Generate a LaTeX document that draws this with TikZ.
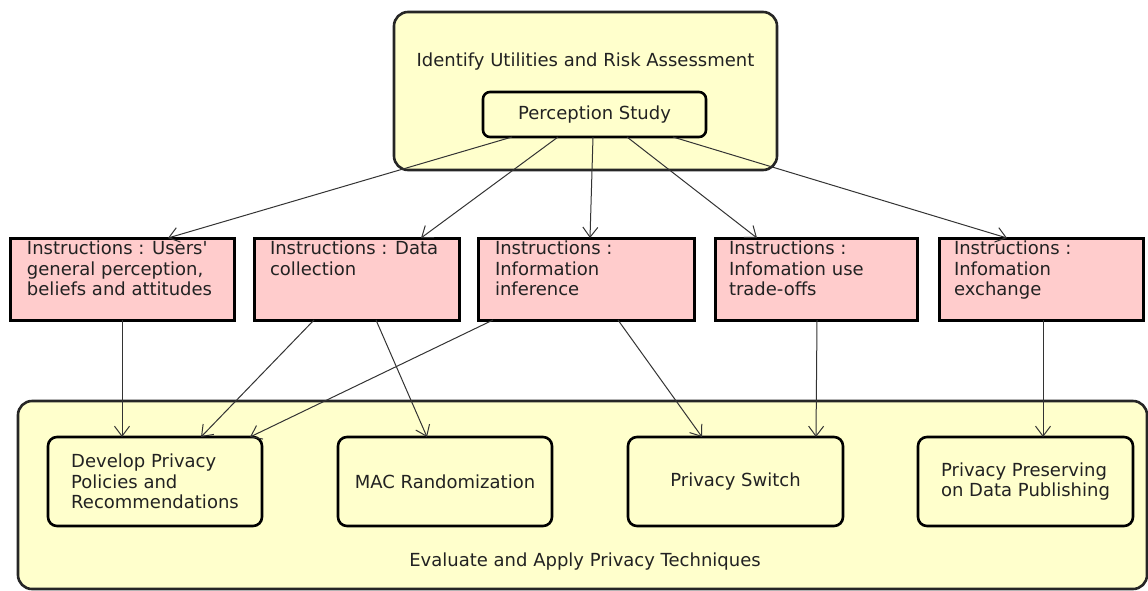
\documentclass[tikz,border=0pt]{standalone}
\usepackage{fontspec}
\setmainfont{DejaVu Sans}
\usetikzlibrary{arrows.meta}
\definecolor{paleyellow}{RGB}{255,255,204}
\definecolor{palepink}{RGB}{255,204,204}
\definecolor{inkgrey}{RGB}{34,34,34}

\begin{document}
\begin{tikzpicture}[x=1pt,y=-1pt,
  every node/.style={outer sep=0pt, inner sep=0pt, text=inkgrey},
  lbl/.style={font=\fontsize{18}{20.5}\selectfont},
  group/.style={draw=black!85, line width=2.6pt, fill=paleyellow, rounded corners=14pt},
  task/.style={draw=black, line width=2.6pt, fill=paleyellow, rounded corners=9pt, lbl, align=left},
  instr/.style={draw=black, line width=3pt, fill=palepink, minimum height=82pt},
  itext/.style={lbl, anchor=north west, align=left},
  conn/.style={draw=black!80, line width=1pt, -{Straight Barb[length=10pt,width=15pt]}},
]
\useasboundingbox (0,0) rectangle (1148,590);

% upper stage
\node[group, minimum width=383pt, minimum height=158pt] (top) at (585.5,91) {};
\node[lbl, anchor=base] (toptitle) at (585.5,66.5) {Identify Utilities and Risk Assessment};
\node[task, minimum width=223pt, minimum height=45pt, rounded corners=7pt] (ps) at (594.5,114.5) {Perception Study};

% lower stage
\node[group, minimum width=1129pt, minimum height=188pt] (bottom) at (582.5,495) {};
\node[lbl, anchor=base] (bottitle) at (585,566) {Evaluate and Apply Privacy Techniques};

% instruction boxes
\node[instr, minimum width=224pt] (i1) at (122,279) {};
\node[instr, minimum width=205pt] (i2) at (356.5,279) {};
\node[instr, minimum width=216pt] (i3) at (586,279) {};
\node[instr, minimum width=202pt] (i4) at (816,279) {};
\node[instr, minimum width=204pt] (i5) at (1041,279) {};

\node[itext] (t1) at ([xshift=17pt,yshift=-3pt]i1.north west) {Instructions : Users\textquotesingle\\general perception,\\beliefs and attitudes};
\node[itext] (t2) at ([xshift=16pt,yshift=-3pt]i2.north west) {Instructions : Data\\collection};
\node[itext] (t3) at ([xshift=17pt,yshift=-3pt]i3.north west) {Instructions :\\Information\\inference};
\node[itext] (t4) at ([xshift=14pt,yshift=-3pt]i4.north west) {Instructions :\\Infomation use\\trade-offs};
\node[itext] (t5) at ([xshift=15pt,yshift=-3pt]i5.north west) {Instructions :\\Infomation\\exchange};

% techniques
\node[task, minimum width=214pt, minimum height=89pt] (dev) at (155,481.5) {Develop Privacy\\Policies and\\Recommendations};
\node[task, minimum width=214pt, minimum height=89pt] (mac) at (445,481.5) {MAC Randomization};
\node[task, minimum width=215pt, minimum height=89pt] (sw) at (735.5,481.5) {Privacy Switch};
\node[task, minimum width=215pt, minimum height=89pt] (pub) at (1025.5,481.5) {Privacy Preserving\\on Data Publishing};

% perception study to instructions
\draw[conn] ([xshift=29pt]ps.south west) -- ([xshift=158pt]i1.north west);
\draw[conn] ([xshift=75pt]ps.south west) -- ([xshift=167pt]i2.north west);
\draw[conn] ([xshift=110pt]ps.south west) -- ([xshift=112pt]i3.north west);
\draw[conn] ([xshift=144pt]ps.south west) -- ([xshift=42pt]i4.north west);
\draw[conn] ([xshift=190pt]ps.south west) -- ([xshift=68pt]i5.north west);

% instructions to techniques
\draw[conn] (i1.south) -- ([xshift=74pt]dev.north west);
\draw[conn] ([xshift=60pt]i2.south west) -- ([xshift=153pt]dev.north west);
\draw[conn] ([xshift=15pt]i3.south west) -- ([xshift=202pt]dev.north west);
\draw[conn] ([xshift=122pt]i2.south west) -- ([xshift=89pt]mac.north west);
\draw[conn] ([xshift=140pt]i3.south west) -- ([xshift=74pt]sw.north west);
\draw[conn] ([xshift=102pt]i4.south west) -- ([xshift=188pt]sw.north west);
\draw[conn] ([xshift=104pt]i5.south west) -- ([xshift=125pt]pub.north west);
\end{tikzpicture}
\end{document}
